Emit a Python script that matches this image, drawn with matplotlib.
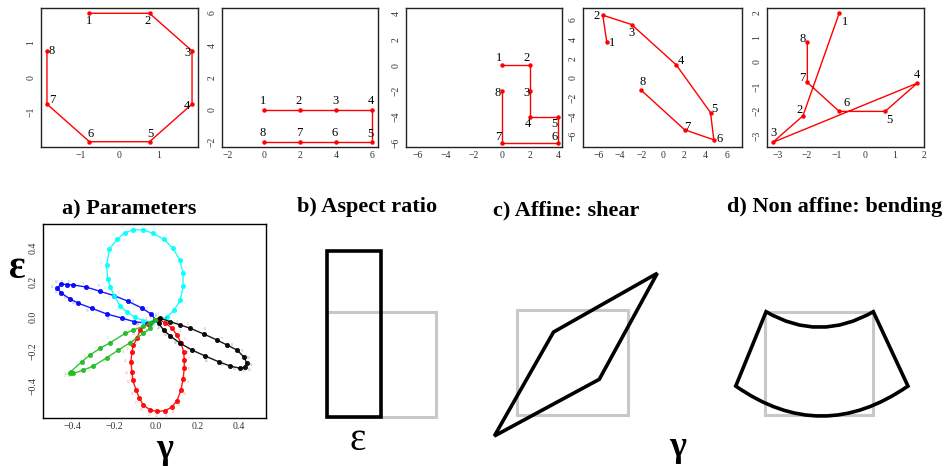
import matplotlib
matplotlib.use("Agg")
import matplotlib.pyplot as plt
import numpy as np
from matplotlib.path import Path
from matplotlib.patches import PathPatch, Polygon

W, H = 949, 466

# ---- top row: landmark configurations, landmarks 1..8
oct_x = [-0.765, 0.765, 1.848, 1.848, 0.765, -0.765, -1.848, -1.848]
oct_y = [1.848, 1.848, 0.765, -0.765, -1.848, -1.848, -0.765, 0.765]

grid_x = [0, 2, 4, 6, 6, 4, 2, 0]
grid_y = [0, 0, 0, 0, -2, -2, -2, -2]

step_x = [0, 2, 2, 2, 4, 4, 0, 0]
step_y = [0, 0, -2, -4, -4, -6, -6, -2]

tilt_x = [-5.26, -5.64, -2.93, 1.28, 4.49, 4.80, 2.06, -2.06]
tilt_y = [3.66, 6.46, 5.50, 1.33, -3.56, -6.36, -5.33, -1.23]

mix_x = [-0.90, -2.14, -3.17, 1.77, 0.67, -0.90, -1.99, -1.99]
mix_y = [1.98, -2.20, -3.28, -0.87, -2.02, -2.02, -0.84, 0.80]

# ---- panel a: (gamma, epsilon) loops
blue_x = [0.000, -0.024, -0.067, -0.133, -0.200, -0.268, -0.335, -0.396, -0.428, -0.455,
          -0.473, -0.454, -0.412, -0.372, -0.308, -0.236, -0.163, -0.104, -0.043, 0.000]
blue_y = [-0.020, 0.016, 0.050, 0.089, 0.122, 0.147, 0.172, 0.184, 0.186, 0.190,
          0.165, 0.137, 0.103, 0.078, 0.049, 0.016, -0.008, -0.029, -0.037, -0.020]

cyan_x = [-0.020, 0.053, 0.088, 0.117, 0.130, 0.130, 0.114, 0.082, 0.037, -0.014, -0.060, -0.108,
          -0.150, -0.185, -0.223, -0.236, -0.232, -0.218, -0.200, -0.172, -0.137, -0.100, -0.060, -0.020]
cyan_y = [-0.030, -0.003, 0.039, 0.097, 0.176, 0.252, 0.330, 0.396, 0.450, 0.483, 0.503, 0.504,
          0.485, 0.450, 0.392, 0.300, 0.220, 0.170, 0.122, 0.064, 0.025, -0.004, -0.022, -0.030]

red_x = [0.013, 0.045, 0.077, 0.101, 0.120, 0.133, 0.136, 0.136, 0.130, 0.120, 0.101, 0.077, 0.045, 0.005,
         -0.027, -0.060, -0.079, -0.095, -0.111, -0.115, -0.120, -0.115, -0.108, -0.091, -0.075, -0.040, 0.013]
red_y = [-0.015, -0.035, -0.067, -0.106, -0.151, -0.203, -0.251, -0.299, -0.363, -0.425, -0.487, -0.522, -0.545, -0.548,
         -0.541, -0.512, -0.473, -0.425, -0.367, -0.319, -0.261, -0.203, -0.164, -0.125, -0.077, -0.040, -0.015]

black_x = [-0.005, 0.021, 0.069, 0.117, 0.165, 0.229, 0.293, 0.341, 0.389, 0.421, 0.437,
           0.429, 0.405, 0.357, 0.301, 0.237, 0.173, 0.117, 0.069, 0.037, 0.013, -0.005]
black_y = [-0.020, -0.009, -0.029, -0.048, -0.067, -0.100, -0.135, -0.164, -0.193, -0.232, -0.270,
           -0.293, -0.299, -0.286, -0.261, -0.228, -0.193, -0.154, -0.112, -0.077, -0.039, -0.020]

green_x = [-0.005, -0.027, -0.060, -0.108, -0.148, -0.220, -0.268, -0.316, -0.356, -0.409,
           -0.412, -0.396, -0.348, -0.300, -0.236, -0.180, -0.124, -0.060, -0.027, -0.005]
green_y = [-0.020, -0.039, -0.055, -0.077, -0.097, -0.151, -0.183, -0.222, -0.261, -0.319,
           -0.328, -0.328, -0.309, -0.286, -0.238, -0.193, -0.151, -0.096, -0.067, -0.020]

# ---- panels b-d: reference square and deformed shapes (unit square coords)
square = [(0, 0), (1, 0), (1, 1), (0, 1)]
stretch = [(0, 0), (0.5, 0), (0.5, 1.58), (0, 1.58)]
shear = [(-0.2, -0.2), (0.33, 0.79), (1.26, 1.35), (0.74, 0.34)]
# corners TL, TR, BR, BL and the control points of the bent top / bottom edges
bend = [(0.01, 1.0), (0.5, 0.70), (1.0, 1.0), (1.32, 0.28), (0.52, -0.30), (-0.27, 0.28)]

titles = ["a) Parameters", "b) Aspect ratio", "c) Affine: shear", "d) Non affine: bending"]

SERIF = "Liberation Serif"


def px_rect(x0, y0, x1, y1):
    return [x0 / W, 1 - y1 / H, (x1 - x0) / W, (y1 - y0) / H]


def fig_xy(x, y):
    return x / W, 1 - y / H


def style_box(ax, lw=1.0, color="#222222"):
    for s in ax.spines.values():
        s.set_linewidth(lw)
        s.set_color(color)
    ax.tick_params(length=0, labelsize=7, labelcolor="#333333")
    ax.tick_params(axis="x", pad=3)
    ax.tick_params(axis="y", pad=4, labelrotation=90)
    for lbl in ax.get_xticklabels() + ax.get_yticklabels():
        lbl.set_fontfamily(SERIF)
    for lbl in ax.get_yticklabels():
        lbl.set_va("center")


fig = plt.figure(figsize=(W / 100, H / 100), dpi=100)

# ---------------- top row
top = [
    (oct_x, oct_y, (41, 198), (-2, 2), (-2, 2), [-1, 0, 1], [-1, 0, 1],
     [(0, -8), (-2, -8), (-5, -2), (-5, -2), (1, 8), (1, 8), (5, 4), (5, 0)]),
    (grid_x, grid_y, (222, 378), (-2.33, 6.33), (-2.3, 6.3), [-2, 0, 2, 4, 6], [-2, 0, 2, 4, 6],
     [(-1, 9)] * 4 + [(-2, 8)] + [(-1, 9)] * 3),
    (step_x, step_y, (406, 562), (-6.8, 4.3), (-6.3, 4.4), [-6, -4, -2, 0, 2, 4], [-6, -4, -2, 0, 2, 4],
     [(-3, 7), (-3, 7), (-3, -2), (-2, -7), (-3, -7), (-3, 6), (-3, 6), (-4, -2)]),
    (tilt_x, tilt_y, (583, 742), (-7.5, 7.45), (-7.1, 7.2), list(range(-6, 7, 2)), list(range(-6, 7, 2)),
     [(5, -1), (-6, -1), (0, -8), (4, 4), (4, 4), (6, 1), (3, 3), (2, 8)]),
    (mix_x, mix_y, (767, 924), (-3.37, 1.97), (-3.47, 2.19), [-3, -2, -1, 0, 1, 2], [-3, -2, -1, 0, 1, 2],
     [(6, -9), (-3, 6), (1, 9), (0, 8), (4, -9), (7, 8), (-5, 4), (-5, 3)]),
]

for xs, ys, (x0, x1), xl, yl, xt, yt, offs in top:
    ax = fig.add_axes(px_rect(x0, 8, x1, 147))
    ax.plot(xs, ys, color="red", lw=1, marker="o", ms=2.2)
    for i, (x, y) in enumerate(zip(xs, ys)):
        ax.annotate(str(i + 1), (x, y), xytext=offs[i], textcoords="offset pixels",
                    ha="center", va="center", fontsize=9, family=SERIF)
    ax.set_xlim(*xl)
    ax.set_ylim(*yl)
    ax.set_xticks(xt)
    ax.set_yticks(yt)
    style_box(ax)

# ---------------- panel a
ax = fig.add_axes(px_rect(42.7, 224, 266, 417.7))
loops = [(blue_x, blue_y, "blue"), (cyan_x, cyan_y, "cyan"), (red_x, red_y, "red"),
         (black_x, black_y, "black"), (green_x, green_y, "#22bb22")]
for xs, ys, c in loops:
    ax.plot(xs, ys, color=c, lw=1, marker="o", ms=3, mew=0.6, mfc=c, alpha=0.9)
    # tiny point numbers, pushed outward from the loop's middle
    cx, cy = np.mean(xs[:-1]), np.mean(ys[:-1])
    for i, (x, y) in enumerate(zip(xs[:-1], ys[:-1])):
        dx, dy = (x - cx) * 208, (y - cy) * 172
        n = max(np.hypot(dx, dy), 1e-6)
        ax.annotate(str(i + 1), (x, y), xytext=(5 * dx / n, 5 * dy / n), textcoords="offset pixels",
                    ha="center", va="center", fontsize=2.6, color=c, alpha=0.45, family=SERIF)
ax.set_xlim(-0.543, 0.528)
ax.set_ylim(-0.585, 0.537)
ax.set_xticks([-0.4, -0.2, 0.0, 0.2, 0.4])
ax.set_yticks([-0.4, -0.2, 0.0, 0.2, 0.4])
style_box(ax, color="black")

# ---------------- panels b-d
gray = "#c8c8c8"


def diagram(rect):
    dax = fig.add_axes(px_rect(*rect))
    dax.set_xlim(0, 1)
    dax.set_ylim(0, 1)
    dax.axis("off")
    dax.add_patch(Polygon(square, closed=True, fill=False, ec=gray, lw=2.2, clip_on=False))
    return dax


bax = diagram((326.7, 311.7, 435.7, 416.7))
bax.add_patch(Polygon(stretch, closed=True, fill=False, ec="black", lw=2.6, clip_on=False))

cax = diagram((516.7, 310, 628.3, 415))
cax.add_patch(Polygon(shear, closed=True, fill=False, ec="black", lw=2.6,
                      joinstyle="miter", clip_on=False))

dax = diagram((765, 311.7, 873.3, 415))
codes = [Path.MOVETO, Path.CURVE3, Path.CURVE3, Path.LINETO, Path.CURVE3, Path.CURVE3, Path.CLOSEPOLY]
dax.add_patch(PathPatch(Path(bend + [bend[0]], codes), fill=False, ec="black", lw=2.6, clip_on=False))

# ---------------- titles and axis symbols
for t, (x, y) in zip(titles, [(62, 209), (297, 207), (493, 210), (727, 207)]):
    fig.text(*fig_xy(x, y), t, ha="left", va="center", fontsize=16, fontweight="bold", family=SERIF)

fig.text(*fig_xy(17.5, 268), "ε", ha="center", va="center", fontsize=28, fontweight="bold", family=SERIF)
fig.text(*fig_xy(165, 449), "γ", ha="center", va="center", fontsize=26, fontweight="bold", family=SERIF)
fig.text(*fig_xy(358, 441), "ε", ha="center", va="center", fontsize=28, family=SERIF)
fig.text(*fig_xy(678, 447), "γ", ha="center", va="center", fontsize=26, fontweight="bold", family=SERIF)

fig.savefig("out.png", dpi=100)
